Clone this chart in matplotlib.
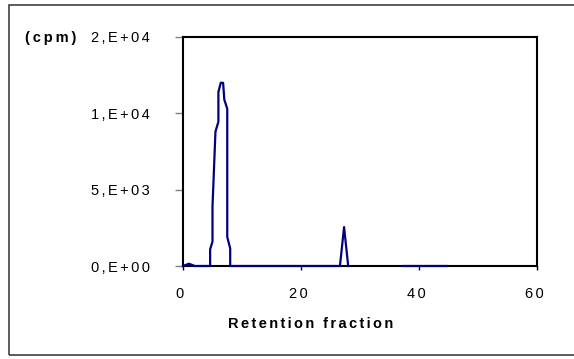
import numpy as np
import matplotlib
matplotlib.use("Agg")
import matplotlib.pyplot as plt
from matplotlib.patches import Rectangle
from matplotlib.ticker import FuncFormatter, MultipleLocator
from matplotlib.transforms import ScaledTranslation

# retention fraction vs. activity (cpm)
# nan breaks the line where the original has no points
fraction = [0.0, 1.0, 2.0, 4.6, 4.6, 5.0, 5.0, 5.5, 6.0, 6.0, 6.4, 6.8, 7.0, 7.5, 7.5,
            8.0, 8.0, 26.6, 27.3, 28.0, np.nan, 37.3, 44.7]
cpm = [0, 150, 0, 0, 1100, 1600, 3900, 8800, 9450, 11400, 12000, 12000, 10900, 10300, 1900,
       1150, 0, 0, 2550, 0, np.nan, 0, 0]

plt.rcParams['font.family'] = ['Liberation Sans', 'DejaVu Sans']

SIX_PER_EM = "\u2006"
THIN = "\u2009"


def spaced(s, gap=SIX_PER_EM):
    # the original (Excel) draws text with extra letter spacing
    return gap.join(s)


fig = plt.figure(figsize=(5.74, 3.59), dpi=100)
ax = fig.add_axes([183 / 574, 1 - 266 / 359, (537 - 183) / 574, (266 - 37) / 359])

ax.plot(fraction, cpm, color='#000080', lw=1.6, zorder=3, clip_on=False)

ax.set_xlim(0, 60)
ax.set_ylim(0, 15000)
ax.xaxis.set_major_locator(MultipleLocator(20))
ax.yaxis.set_major_locator(MultipleLocator(5000))


def excel_sci(v, pos):
    # Excel "0,E+00" format: one significant digit
    return spaced(f"{v:.0E}".replace("E", ",E"))


ax.yaxis.set_major_formatter(FuncFormatter(excel_sci))
ax.xaxis.set_major_formatter(FuncFormatter(lambda v, pos: spaced(f"{v:.0f}")))
ax.tick_params(axis='y', direction='out', length=6, width=1, color='#808080', pad=18, labelsize=10.5)
ax.tick_params(axis='x', direction='out', length=3, width=1, color='black', pad=12, labelsize=10.5)

for lab in ax.get_xticklabels():
    lab.set_transform(lab.get_transform() + ScaledTranslation(-3 / 100, 0, fig.dpi_scale_trans))

for s in ax.spines.values():
    s.set_color('black')
    s.set_linewidth(1.5)

fig.text(25 / 574, 1 - 38 / 359, spaced("(cpm)", THIN), fontsize=10.5, fontweight='bold',
         va='center', ha='left')
fig.text(311 / 574, 1 - 324 / 359, spaced("Retention fraction", SIX_PER_EM), fontsize=10.5,
         fontweight='bold', va='center', ha='center')

# outer chart border
fig.patches.append(Rectangle((9 / 574, 1 - 355 / 359), 1.0, (355 - 5) / 359,
                             transform=fig.transFigure, fill=False, edgecolor='#404040', lw=1.2))

fig.savefig('out.png', dpi=100)
